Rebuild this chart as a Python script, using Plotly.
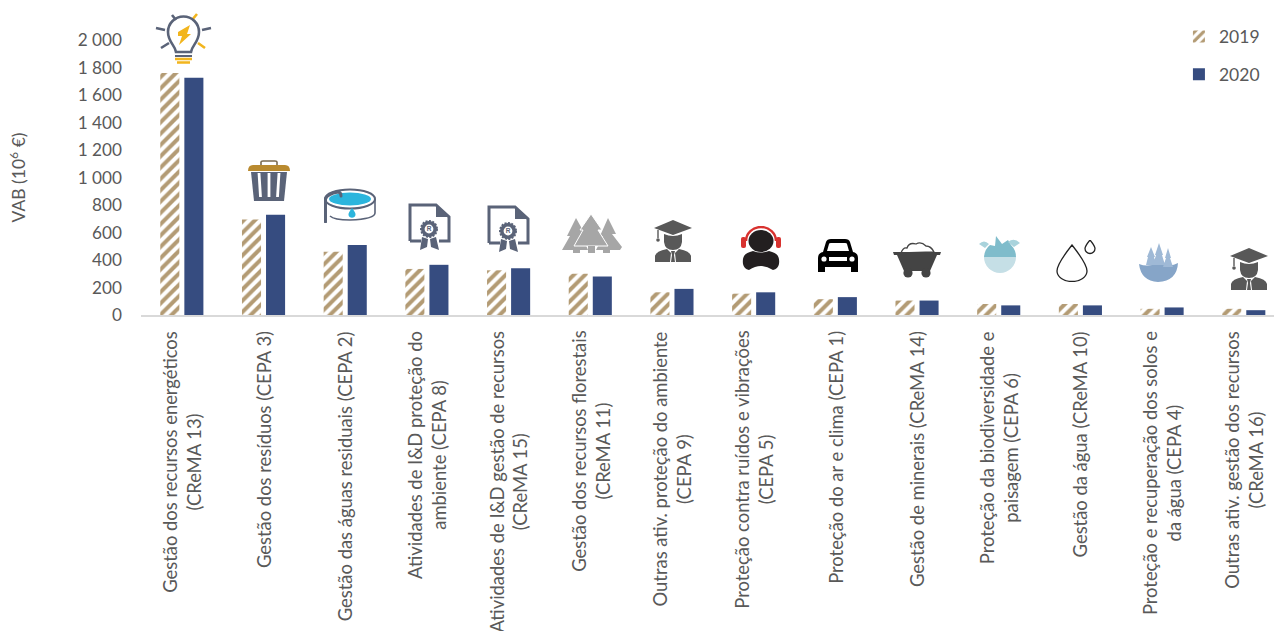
import base64
import plotly.graph_objects as go

categories = [
    "Gestão dos recursos energéticos<br>(CReMA 13)",
    "Gestão dos resíduos (CEPA 3)",
    "Gestão das águas residuais (CEPA 2)",
    "Atividades de I&D proteção do<br>ambiente (CEPA 8)",
    "Atividades de I&D gestão de recursos<br>(CReMA 15)",
    "Gestão dos recursos florestais<br>(CReMA 11)",
    "Outras ativ. proteção do ambiente<br>(CEPA 9)",
    "Proteção contra ruídos e vibrações<br>(CEPA 5)",
    "Proteção do ar e clima (CEPA 1)",
    "Gestão de minerais (CReMA 14)",
    "Proteção da biodiversidade e<br>paisagem (CEPA 6)",
    "Gestão da água (CReMA 10)",
    "Proteção e recuperação dos solos e<br>da água (CEPA 4)",
    "Outras ativ. gestão dos recursos<br>(CReMA 16)",
]
vab_2019 = [1760, 695, 460, 335, 325, 300, 165, 155, 115, 105, 80, 80, 45, 45]
vab_2020 = [1725, 730, 510, 365, 340, 280, 190, 165, 130, 105, 70, 70, 55, 35]
y_ticks = [0, 200, 400, 600, 800, 1000, 1200, 1400, 1600, 1800, 2000]
y_tick_text = ["0", "200", "400", "600", "800", "1 000", "1 200", "1 400", "1 600", "1 800", "2 000"]

FONT = "Lato"
TEXT = "#595959"
SLATE = "#5A6378"
GOLD = "#F2B51D"
DARK = "#585858"

# Page geometry of the plotting area, used to place the pictograms
W, H = 1274, 631
LEFT, RIGHT, TOP, BOTTOM = 141, 1274, 40, 315

SOFT = '<filter id="s"><feGaussianBlur stdDeviation="0.6"/></filter>'

GRAD = f'''<path d="M19 0 L38 8 L19 15 L0 8Z" fill="{DARK}"/>
<path d="M4 10 V18" stroke="{DARK}" stroke-width="1.4"/><circle cx="4" cy="20" r="1.8" fill="{DARK}"/>
<path d="M10 14 Q19 18 28 14 V22 Q27 30 19 30 Q11 30 10 22Z" fill="{DARK}"/>
<path d="M1 42 V36 Q2 31 13 29 L17 33 L16 42Z M37 42 V36 Q36 31 25 29 L21 33 L22 42Z M17 31 H21 L20 35 L21 42 H17 L18 35Z" fill="{DARK}"/>'''

CERT = f'''<path d="M2 38 V2 H28 L41 14 V38 H31 M13 38 H2" fill="none" stroke="{SLATE}" stroke-width="3"/>
<path d="M28 2 V14 H41 L28 2Z" fill="{SLATE}"/>
<circle cx="21" cy="26" r="8" fill="{SLATE}" stroke="{SLATE}" stroke-width="2" stroke-dasharray="2 1.4"/>
<circle cx="21" cy="26" r="4.4" fill="#fff"/>
<text x="21" y="28.4" font-size="6.5" font-weight="700" text-anchor="middle" fill="{SLATE}" font-family="Liberation Sans">R</text>
<path d="M14 34 L12 47 L19 44 L20 36Z M28 34 L31 47 L23 44 L22 36Z" fill="{SLATE}"/>'''

# Pictograms: (x0, y0, x1, y1 in page pixels, SVG drawing on a matching viewBox)
icons = [
    (155, 12, 212, 65, f'''
<g stroke-linecap="butt" fill="none">
<path d="M17 3 L21 8 M1 16 L10 18 M56 16 L47 18 M6 36 L14 31" stroke="{SLATE}" stroke-width="2.6"/>
<path d="M42 2 L37 8 M50 36 L43 31" stroke="{GOLD}" stroke-width="2.6"/>
<path d="M21 40 C20 33 13 30 13 20 A15.5 15.5 0 0 1 44 20 C44 30 37 33 36 40Z" stroke="{SLATE}" stroke-width="2.6"/>
<path d="M20 40 H37 M20 44 H37" stroke="{SLATE}" stroke-width="1.8"/>
<path d="M20 47 H37 M22 50.5 H35" stroke="{GOLD}" stroke-width="2.6"/></g>
<path d="M23 20 L35 13 L32 22 L36 22 L24 33 L27 24 L23 24Z" fill="{GOLD}"/>'''),
    (248, 160, 290, 202, f'''
<path d="M13 6 V2 Q13 1 15 1 H27 Q29 1 29 2 V6" fill="none" stroke="#7A6A50" stroke-width="1.6"/>
<path d="M0 11 Q0 5 5 5 H37 Q42 5 42 11 Z" fill="#B98A2F"/>
<path d="M3 12 H39 L36 41 H6Z" fill="{SLATE}"/>
<path d="M11 13 L12.5 37 M21 13 V37 M31 13 L29.5 37" stroke="#fff" stroke-width="2.8"/>'''),
    (324, 188, 377, 223, f'''
<ellipse cx="26" cy="11" rx="25" ry="9.5" fill="#fff" stroke="{SLATE}" stroke-width="2"/>
<ellipse cx="26" cy="11" rx="21" ry="6.5" fill="#2BB5DD"/>
<path d="M51 11 V25 Q51 31 26 32 Q10 32 6 28" fill="none" stroke="{SLATE}" stroke-width="1.6"/>
<path d="M1.5 34 V11 Q3 6 14 4 Q17 4 17 8" fill="none" stroke="{SLATE}" stroke-width="3" stroke-linecap="round"/>
<path d="M28 20 Q24 25 24.5 27 A3.6 3.6 0 0 0 31.5 27 Q32 25 28 20Z" fill="#2BB5DD"/>'''),
    (408, 203, 451, 251, CERT),
    (487, 205, 531, 252, CERT),
    (562, 214, 622, 253, '''
<g fill="#A6A6A6"><path d="M14 4 L24 22 L20 22 L26 36 H0 L8 22 L5 22Z"/>
<path d="M46 4 L54 20 L50 20 L60 33 L58 36 H34 L41 22 L38 22Z"/>
<path d="M29 0 L40 16 L36 16 L46 32 H12 L21 16 L18 16Z" stroke="#fff" stroke-width="1"/>
<rect x="11" y="33" width="7" height="6"/><rect x="26" y="32" width="7" height="7"/><rect x="41" y="33" width="7" height="6"/></g>'''),
    (654, 220, 692, 262, GRAD),
    (740, 226, 782, 270, '''
<path d="M6 15 A15 14 0 0 1 36 15" fill="none" stroke="#D8322F" stroke-width="2.4"/>
<rect x="1" y="11" width="5" height="11" rx="2" fill="#D8322F"/><rect x="36" y="11" width="5" height="11" rx="2" fill="#D8322F"/>
<ellipse cx="21" cy="15" rx="12.5" ry="11" fill="#231F20"/>
<path d="M3 38 C2 30 5 27 13 25 Q21 28 29 25 C37 27 40 30 39 38 Q38 43 33 44 Q21 36 9 44 Q4 43 3 38Z" fill="#231F20"/>'''),
    (818, 238, 858, 272, '''
<path d="M5 14 L8 4 Q9 1 13 1 H27 Q31 1 32 4 L35 14 Q40 15 40 20 V34 H33 V29 H7 V34 H0 V20 Q0 15 5 14Z" fill="#000"/>
<path d="M9 13 L11 6 Q11 5 13 5 H27 Q29 5 29 6 L31 13Z" fill="#fff"/>
<circle cx="6" cy="21" r="2.6" fill="#fff"/><circle cx="34" cy="21" r="2.6" fill="#fff"/>
<rect x="11" y="19" width="18" height="4" fill="#fff"/>'''),
    (893, 242, 941, 278, f'''
<path d="M8 11 Q10 5 14 6 Q16 0 23 2 Q28 -1 33 4 Q38 4 41 10Z" fill="#fff" stroke="#444" stroke-width="1.3"/>
<path d="M0 10 H48 L47 13 H44 L37 29 H11 L4 13 H1Z" fill="#444"/>
<circle cx="15" cy="31" r="4.6" fill="#444"/><circle cx="33" cy="31" r="4.6" fill="#444"/>'''),
    (978, 236, 1020, 277, SOFT + '''<g filter="url(#s)">
<path d="M6 21 A16 16 0 0 0 38 21 Z" fill="#C5DFE6"/>
<path d="M6 21 A16 16 0 0 1 12 9 L17 10 L18 0 L24 8 L30 4 L33 9 Q38 14 38 21Z" fill="#7FBCCB"/>
<path d="M1 8 Q6 3 11 8 L7 12Z M30 6 Q36 1 42 7 L36 11Z" fill="#A9D3DC"/></g>'''),
    (1056, 240, 1096, 282, '''
<path d="M16 5 Q1 24 1 31 A15 10.5 0 0 0 31 31 Q31 24 16 5Z" fill="none" stroke="#222" stroke-width="1.3"/>
<path d="M34 0 Q29 6 29 8.5 A5 5 0 0 0 39 8.5 Q39 6 34 0Z" fill="none" stroke="#222" stroke-width="1.3"/>'''),
    (1139, 243, 1178, 282, SOFT + '''<g filter="url(#s)">
<path d="M0 21 Q10 25 20 19 Q30 25 39 20 Q38 38 19 39 Q2 38 0 21Z" fill="#86A5C8"/>
<path d="M12 4 L16 14 L15 14 L17 22 H7 L9 14 L8 14Z M20 0 L24 12 L23 12 L26 22 H14 L17 12 L16 12Z M29 5 L32 15 L31 15 L34 24 H24 L27 15 L26 15Z" fill="#9FB9D6"/></g>'''),
    (1230, 248, 1268, 290, GRAD),
]


def icon_image(x0, y0, x1, y1, body):
    """Wrap a pictogram as an inline SVG image placed by its page-pixel box."""
    w, h = x1 - x0, y1 - y0
    svg = f'<svg xmlns="http://www.w3.org/2000/svg" width="{w}" height="{h}" viewBox="0 0 {w} {h}">{body}</svg>'
    src = "data:image/svg+xml;base64," + base64.b64encode(svg.encode()).decode()
    return dict(
        source=src, xref="paper", yref="paper",
        x=(x0 - LEFT) / (RIGHT - LEFT), y=(BOTTOM - y0) / (BOTTOM - TOP),
        sizex=w / (RIGHT - LEFT), sizey=h / (BOTTOM - TOP),
        xanchor="left", yanchor="top", sizing="stretch", layer="above",
    )


fig = go.Figure()
fig.add_bar(
    name="2019", x=categories, y=vab_2019, legendgroup="a",
    marker=dict(color="#FFFFFF", line=dict(width=0),
                pattern=dict(shape="/", fgcolor="#B39B74", bgcolor="#FFFFFF", fgopacity=1, size=8, solidity=0.5)),
)
fig.add_bar(
    name="2020", x=categories, y=vab_2020, legendgroup="b",
    marker=dict(color="#364C80", line=dict(width=0)),
)

# Category names run upward beneath the axis, centred line by line
annotations = [
    dict(x=i, xref="x", y=(BOTTOM - 329) / (BOTTOM - TOP), yref="paper", text=name,
         textangle=-90, showarrow=False, xanchor="center", yanchor="top", align="center",
         font=dict(family=FONT, size=18.4, color=TEXT))
    for i, name in enumerate(categories)
]

fig.update_layout(
    width=W, height=H,
    margin=dict(l=LEFT, r=W - RIGHT, t=TOP, b=H - BOTTOM),
    paper_bgcolor="#FFFFFF", plot_bgcolor="#FFFFFF",
    barmode="group", bargap=0.411, bargroupgap=0.208,
    font=dict(family=FONT, color=TEXT),
    xaxis=dict(type="category", range=[-0.5, 13.37], showticklabels=False, ticks="",
               showline=True, linecolor="#D9D9D9", linewidth=1.5, showgrid=False, zeroline=False),
    yaxis=dict(range=[0, 2000], tickvals=y_ticks, ticktext=y_tick_text, showgrid=False,
               zeroline=False, showline=False, ticks="", tickfont=dict(family=FONT, size=17.2, color=TEXT),
               ticklabelstandoff=18,
               title=dict(text="VAB (10<sup>6</sup> €)", standoff=47, font=dict(family=FONT, size=17.5, color=TEXT))),
    legend=dict(x=0.992, xanchor="right", y=1.078, yanchor="top", bgcolor="rgba(0,0,0,0)",
                font=dict(family=FONT, size=17.5, color=TEXT), tracegroupgap=12,
                itemwidth=30, traceorder="grouped"),
    annotations=annotations,
    images=[icon_image(*icon) for icon in icons],
)

fig.write_html("out.html")
